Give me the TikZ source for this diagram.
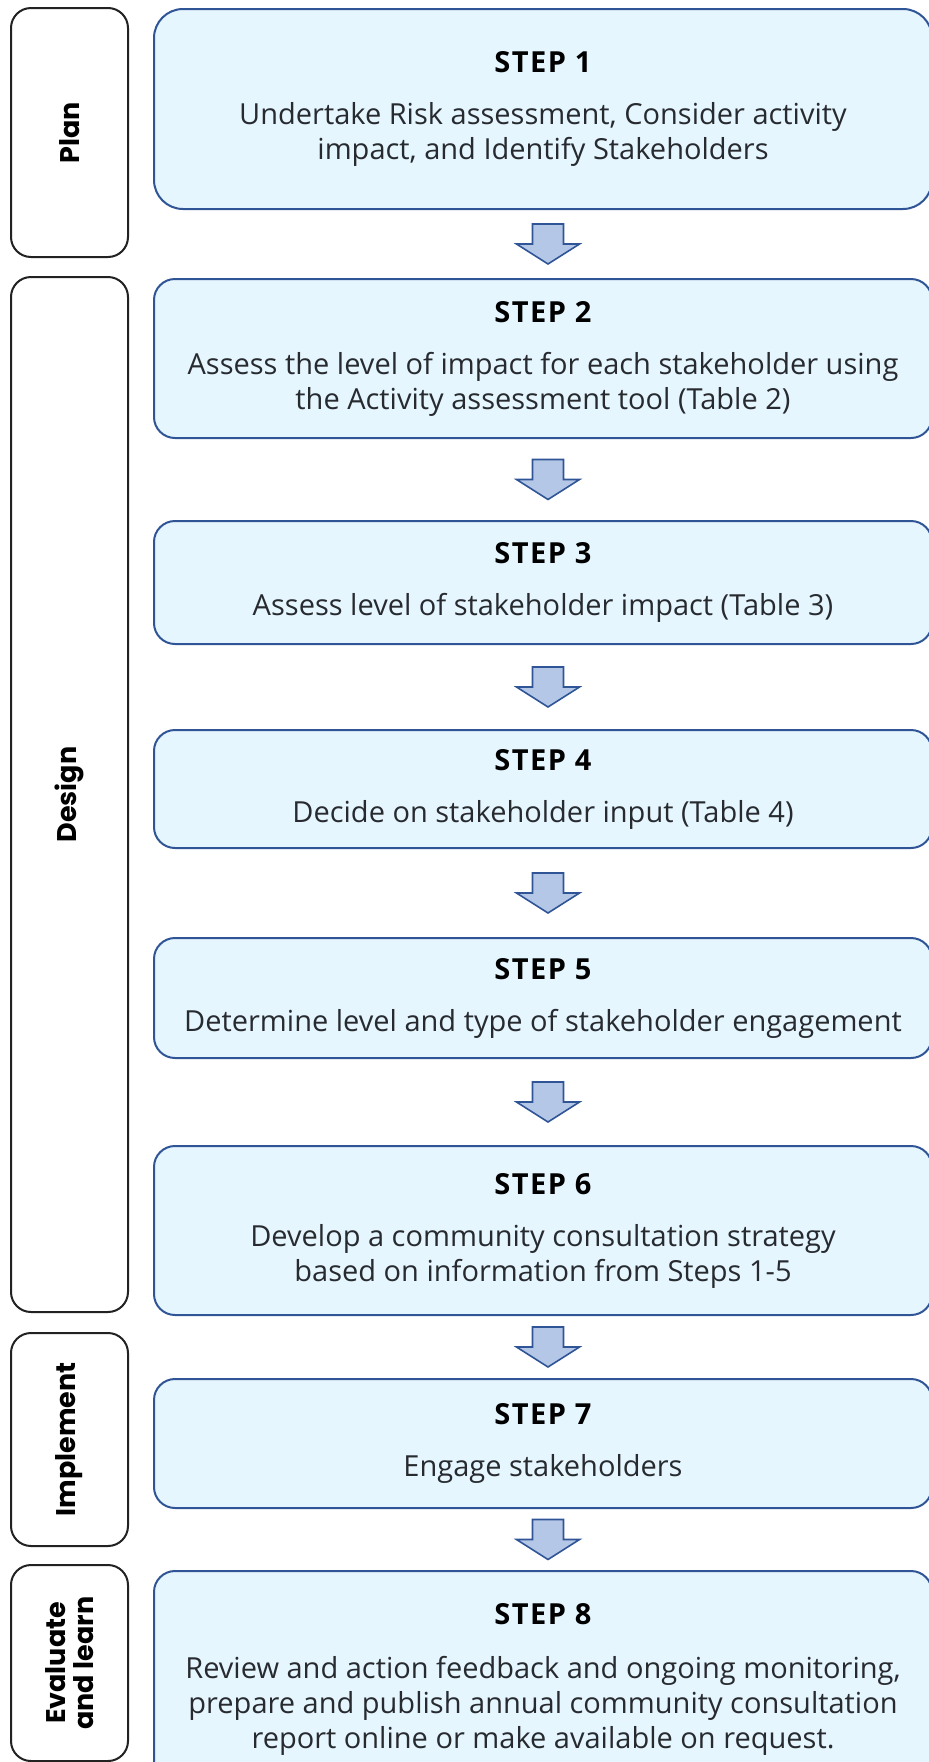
\documentclass[tikz,border=0pt]{standalone}
\usepackage{fontspec}
\setmainfont{Open Sans}
\newfontfamily\sidefont{Poppins}
\usetikzlibrary{calc}

\definecolor{stepblue}{HTML}{2F5597}
\definecolor{stepfill}{HTML}{E6F6FE}
\definecolor{arrowfill}{HTML}{B4C7E7}
\definecolor{sideline}{HTML}{222222}
\definecolor{bodytext}{HTML}{272B30}

\newcommand{\steptitle}[1]{{\fontsize{29}{35}\selectfont\bfseries\addfontfeature{LetterSpace=5}\color{black}#1}}

\tikzset{
  stepbox/.style={draw=stepblue, fill=stepfill, line width=2pt, rounded corners=21pt,
    minimum width=778pt, inner sep=0pt, align=center, text=bodytext,
    font=\fontsize{29}{35}\selectfont},
  sidebox/.style={draw=sideline, fill=white, line width=2pt, rounded corners=20pt,
    rotate=90, minimum height=117pt, inner sep=0pt, align=center, text=black,
    font=\sidefont\bfseries\fontsize{27}{27.5}\selectfont},
  downarrow/.pic={
    \draw[draw=stepblue, fill=arrowfill, line width=1.6pt]
      (-15.5,-20) -- (15.5,-20) -- (15.5,0) -- (31.5,0) -- (0,20)
      -- (-31.5,0) -- (-15.5,0) -- cycle;
  }
}

\begin{document}
\begin{tikzpicture}[x=1pt, y=-1pt]
  \useasboundingbox (0,0) rectangle (929,1762);

  % phases
  \node[sidebox, minimum width=249pt] (plan) at (69.5,132.5) {Plan};
  \node[sidebox, minimum width=1035pt] (design) at (69.5,794.5) {Design};
  \node[sidebox, minimum width=213pt] (implement) at (69.5,1439.5) {Implement};
  \node[sidebox, minimum width=196pt] (evaluate) at (69.5,1663) {Evaluate\\and learn};

  % steps
  \node[stepbox, minimum height=200pt, rounded corners=29pt] (step1) at (543,109)
    {\steptitle{STEP 1}\\[17pt] Undertake Risk assessment, Consider activity\\ impact, and Identify Stakeholders};
  \node[stepbox, minimum height=159pt] (step2) at (543,358.5)
    {\steptitle{STEP 2}\\[17pt] Assess the level of impact for each stakeholder using\\ the Activity assessment tool (Table 2)};
  \node[stepbox, minimum height=123pt] (step3) at (543,582.5)
    {\steptitle{STEP 3}\\[17pt] Assess level of stakeholder impact (Table 3)};
  \node[stepbox, minimum height=118pt] (step4) at (543,789)
    {\steptitle{STEP 4}\\[17pt] Decide on stakeholder input (Table 4)};
  \node[stepbox, minimum height=120pt] (step5) at (543,998)
    {\steptitle{STEP 5}\\[17pt] Determine level and type of stakeholder engagement};
  \node[stepbox, minimum height=169pt] (step6) at (543,1230.5)
    {\steptitle{STEP 6}\\[17pt] Develop a community consultation strategy\\ based on information from Steps 1-5};
  \node[stepbox, minimum height=129pt] (step7) at (543,1443.5)
    {\steptitle{STEP 7}\\[17pt] Engage stakeholders};
  \node[stepbox, minimum height=216pt] (step8) at (543,1679)
    {\steptitle{STEP 8}\\[19pt] Review and action feedback and ongoing monitoring,\\ prepare and publish annual community consultation\\ report online or make available on request.};

  % arrows between steps
  \foreach \a/\b in {step1/step2, step2/step3, step3/step4, step4/step5,
                     step5/step6, step6/step7, step7/step8}
    \pic at ($(\a.south)!0.5!(\b.north)+(5,0)$) {downarrow};
\end{tikzpicture}
\end{document}
